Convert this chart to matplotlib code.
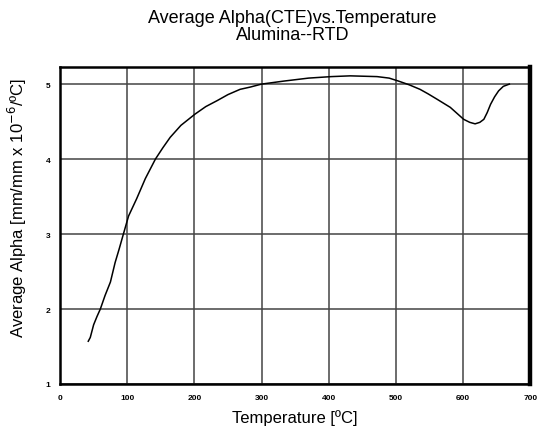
import matplotlib as mpl
import matplotlib.pyplot as plt

mpl.use('Agg')

# Temperature [C] and average alpha [mm/mm x 1e-6/C]
temp = [42, 45, 50, 55, 60, 67, 75, 82, 88, 94, 102, 114, 127, 142, 153,
        164, 180, 201, 217, 234, 250, 268, 283, 300, 333, 370, 404, 432,
        472, 490, 504, 520, 536, 548, 561, 581, 601, 610, 618, 625, 631,
        636, 641, 647, 653, 660, 666, 669]
alpha = [1.57, 1.62, 1.79, 1.90, 2.00, 2.18, 2.36, 2.62, 2.80, 2.99, 3.24,
         3.47, 3.74, 4.00, 4.15, 4.29, 4.45, 4.60, 4.70, 4.78, 4.86, 4.93,
         4.96, 5.00, 5.04, 5.08, 5.10, 5.11, 5.10, 5.08, 5.04, 4.99, 4.93,
         4.87, 4.80, 4.69, 4.53, 4.49, 4.47, 4.49, 4.53, 4.62, 4.73, 4.83,
         4.91, 4.97, 4.99, 5.00]

x_ticks = [0, 100, 200, 300, 400, 500, 600, 700]
y_ticks = [1, 2, 3, 4, 5]

plt.rcParams['font.family'] = ['Liberation Sans', 'DejaVu Sans']

fig = plt.figure(figsize=(5.41, 4.35), dpi=100)
ax = fig.add_axes([0.111, 0.115, 0.869, 0.729])

ax.plot(temp, alpha, color='black', linewidth=1.1)

ax.set_xlim(0, 700)
ax.set_ylim(1, 5.23)
ax.set_xticks(x_ticks)
ax.set_yticks(y_ticks)
ax.tick_params(length=0, labelsize=6, pad=7)
for lbl in ax.get_xticklabels() + ax.get_yticklabels():
    lbl.set_fontweight('bold')

ax.grid(True, color='#444444', linewidth=1.1)
ax.set_axisbelow(True)

for side in ['left', 'bottom', 'top']:
    ax.spines[side].set_linewidth(1.8)
ax.spines['right'].set_linewidth(3.2)

ax.set_title("Average Alpha(CTE)vs.Temperature\nAlumina--RTD",
             fontsize=13, pad=20, x=0.494, linespacing=1.0)
ax.set_xlabel("Temperature [ºC]", fontsize=12, labelpad=6)
ax.set_ylabel("Average Alpha [mm/mm x 10$^{-6}$/ºC]", fontsize=12)
ax.yaxis.set_label_coords(-0.066, 0.56)

plt.savefig("out.png", dpi=100)
plt.close()
